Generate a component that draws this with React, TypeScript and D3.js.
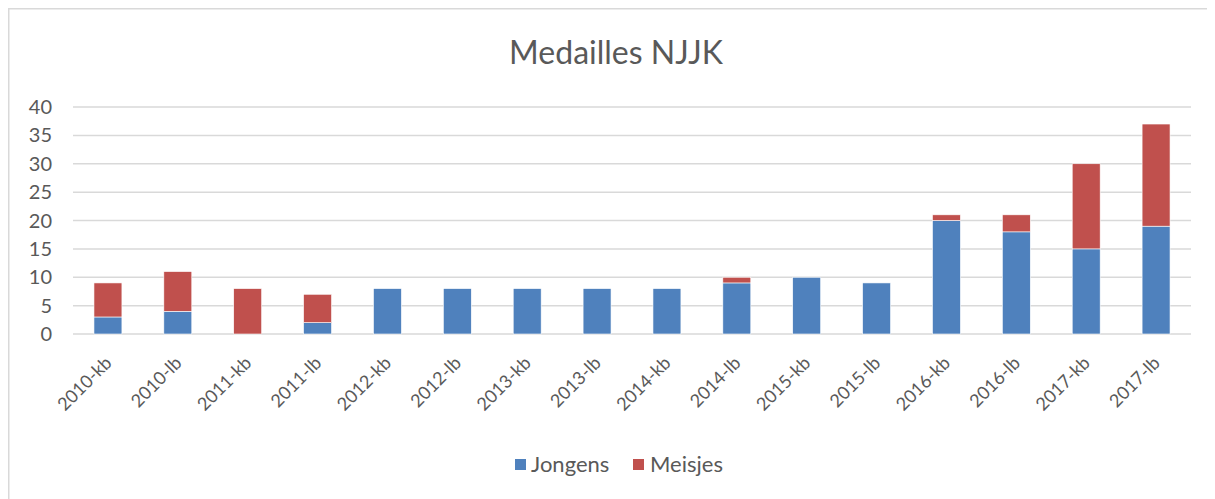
import * as d3 from "d3";

const categories = [
  "2010-kb", "2010-lb", "2011-kb", "2011-lb", "2012-kb", "2012-lb", "2013-kb", "2013-lb",
  "2014-kb", "2014-lb", "2015-kb", "2015-lb", "2016-kb", "2016-lb", "2017-kb", "2017-lb",
];
const jongens = [3, 4, 0, 2, 8, 8, 8, 8, 8, 9, 10, 9, 20, 18, 15, 19];
const meisjes = [6, 7, 8, 5, 0, 0, 0, 0, 0, 1, 0, 0, 1, 3, 15, 18];
const seriesNames = ["Jongens", "Meisjes"];
const colors = ["#4F81BD", "#C0504D"];
const yTicks = [0, 5, 10, 15, 20, 25, 30, 35, 40];

const width = 1207;
const height = 491;
const margin = { top: 99, right: 24, bottom: 165, left: 65 };
const font = "Lato, 'Open Sans', sans-serif";
const textColor = "#595959";

export default function App() {
  const rows = categories.map((c, i) => ({ cat: c, Jongens: jongens[i], Meisjes: meisjes[i] }));
  const stacked = d3.stack<any>().keys(seriesNames)(rows);

  const x = d3
    .scaleBand()
    .domain(categories)
    .range([margin.left, width - margin.right])
    .paddingInner(0.6)
    .paddingOuter(0.3);

  const y = d3
    .scaleLinear()
    .domain([0, 40])
    .range([height - margin.bottom, margin.top]);

  return (
    <svg width={width} height={height} style={{ display: "block" }}>
      <rect x={0.75} y={0.75} width={width + 10} height={height + 10} fill="#fff" stroke="#d9d9d9" strokeWidth={1.5} />
      <text x={608} y={56} textAnchor="middle" fontFamily={font} fontSize={32} fill={textColor}>
        Medailles NJJK
      </text>

      {/* grid + y labels */}
      {yTicks.map((t) => (
        <g key={t}>
          <line x1={margin.left} x2={width - margin.right} y1={y(t)} y2={y(t)} stroke="#d9d9d9" strokeWidth={1.5} />
          <text x={44} y={y(t)} dy="0.35em" textAnchor="end" fontFamily={font} fontSize={20} fill={textColor}>
            {t}
          </text>
        </g>
      ))}

      {stacked.map((s, si) => (
        <g key={s.key} fill={colors[si]}>
          {s.map((d, i) =>
            d[1] - d[0] > 0 ? (
              <rect
                key={i}
                x={x(categories[i])!}
                y={y(d[1])}
                width={x.bandwidth()}
                height={y(d[0]) - y(d[1])}
                stroke="#fff"
                strokeWidth={0.6}
              />
            ) : null
          )}
        </g>
      ))}

      {/* x labels */}
      {categories.map((c) => {
        const cx = x(c)! + x.bandwidth() / 2 + 5;
        const cy = y(0) + 30;
        return (
          <text
            key={c}
            x={cx}
            y={cy}
            transform={`rotate(-45,${cx},${cy})`}
            textAnchor="end"
            fontFamily={font}
            fontSize={18}
            fill={textColor}
          >
            {c}
          </text>
        );
      })}

      {/* legend */}
      <g fontFamily={font} fontSize={22} fill={textColor}>
        <rect x={507} y={451} width={11} height={11} fill={colors[0]} />
        <text x={523} y={464}>Jongens</text>
        <rect x={625} y={451} width={11} height={11} fill={colors[1]} />
        <text x={642} y={464}>Meisjes</text>
      </g>
    </svg>
  );
}
